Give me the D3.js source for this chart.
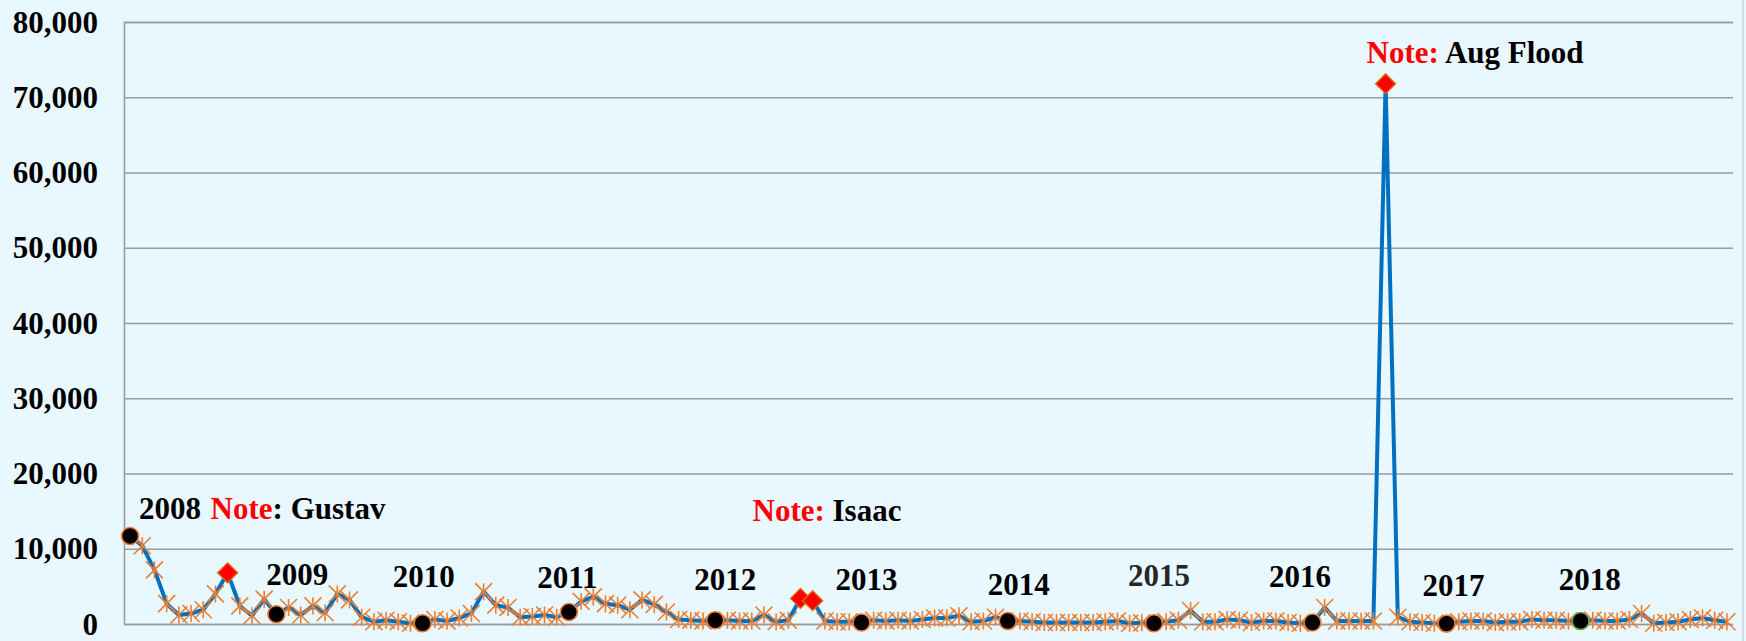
<!DOCTYPE html>
<html><head><meta charset="utf-8">
<script src="https://cdn.jsdelivr.net/npm/d3@7"></script>
<style>
html,body{margin:0;padding:0;background:#E9F7FE;}
svg{display:block;}
</style></head><body>
<svg id="chart" width="1746" height="641"></svg>
<script>
// ---- data ----
const values = [
  11700,10400,7200,2700,1200,1400,1900,4000,6800,2400,1100,3300,
  1300,2200,1200,2400,1500,4000,3200,900,300,500,300,100,
  100,600,400,800,1400,4300,2500,2200,900,1000,1200,900,
  1600,3000,3600,2700,2500,1900,3200,2600,1600,600,500,400,
  500,500,400,400,1200,300,500,3400,3100,400,300,300,
  200,500,400,500,400,600,800,800,1100,300,400,900,
  400,400,300,200,200,200,200,200,300,400,100,150,
  100,300,500,1800,300,300,600,500,200,400,400,200,
  100,200,2200,400,400,400,400,71800,900,300,200,100,
  50,300,400,400,200,300,300,600,500,500,400,400,
  500,400,400,600,1400,100,200,300,600,800,500,300
];
const yearLabels = ['2008','2009','2010','2011','2012','2013','2014','2015','2016','2017','2018'];
const yearIndex  = [0,12,24,36,48,60,72,84,97,108,119];
const noteIndex  = [8,55,56,103];
const noteAnchor = [8,55,103];
const noteLead   = ['Note','Note:','Note:'];
const noteBody   = [': Gustav',' Isaac',' Aug Flood'];
const yTicks     = [0,10000,20000,30000,40000,50000,60000,70000,80000];

// ---- layout ----
const W = 1746, H = 641;
const plot = {left:124, right:1733, top:22, bottom:624};
const FONT = "'Liberation Serif','Times New Roman',serif";
const svg = d3.select('#chart');
svg.append('rect').attr('width',W).attr('height',H).attr('fill','#E9F7FE');
svg.append('line').attr('x1',1743).attr('x2',1743).attr('y1',0).attr('y2',H)
   .attr('stroke','#c4c9cc').attr('stroke-width',1.2);

const x = d3.scaleBand().domain(d3.range(values.length)).range([plot.left, plot.right]).paddingInner(0).paddingOuter(0);
const cx = i => x(i) + x.bandwidth()/2;
const y = d3.scaleLinear().domain([0,80000]).range([plot.bottom, plot.top]);

// y axis with gridlines
const yAxis = d3.axisLeft(y).tickValues(yTicks).tickFormat(d3.format(','))
  .tickSize(-(plot.right-plot.left)).tickPadding(26);
const gy = svg.append('g').attr('transform',`translate(${plot.left},0)`).call(yAxis);
gy.select('.domain').attr('stroke','#9a9a9a').attr('stroke-width',1.6);
gy.selectAll('.tick line').attr('stroke','#9a9a9a').attr('stroke-width',1.6);
gy.selectAll('.tick text').attr('font-family',FONT).attr('font-weight','bold')
  .attr('font-size',31).attr('fill','#000').attr('dy','0.33em');

// line
svg.append('path').datum(values)
  .attr('fill','none').attr('stroke','#0070C0').attr('stroke-width',4)
  .attr('stroke-linejoin','round')
  .attr('d', d3.line().x((d,i)=>cx(i)).y(d=>y(d)));

// star markers
const plain = values.map((v,i)=>i).filter(i=>!yearIndex.includes(i) && !noteIndex.includes(i));
const s = 8.5;
svg.append('g').selectAll('path').data(plain).join('path')
  .attr('transform', i=>`translate(${cx(i)},${y(values[i])})`)
  .attr('d', `M${-s},${-s}L${s},${s}M${-s},${s}L${s},${-s}M0,${-s}L0,${s}`)
  .attr('stroke','#ED7D31').attr('stroke-width',1.6).attr('fill','none');

// diamonds
svg.append('g').selectAll('path').data(noteIndex).join('path')
  .attr('transform', i=>`translate(${cx(i)},${y(values[i])})`)
  .attr('d','M0,-10L10,0L0,10L-10,0Z')
  .attr('fill','#FF0000').attr('stroke','#E46C0A').attr('stroke-width',1.3);

// year circles
svg.append('g').selectAll('circle').data(yearIndex).join('circle')
  .attr('cx', i=>cx(i)).attr('cy', i=>y(values[i])).attr('r',8.5)
  .attr('fill','#000')
  .attr('stroke', (i,k)=> k===yearIndex.length-1 ? '#70AD47' : '#ED7D31')
  .attr('stroke-width',1.6);

// year labels (offsets from their anchor point)
const yearOffset = [[40,-17],[21,-29],[1,-36.5],[-1.5,-24.3],[10,-30.2],[5,-32.5],[11,-26],[5,-37.2],[-12.5,-35.8],[7,-27.6],[9,-31]];
svg.append('g').selectAll('text').data(yearIndex).join('text')
  .attr('x',(i,k)=>cx(i)+yearOffset[k][0])
  .attr('y',(i,k)=>y(values[i])+yearOffset[k][1])
  .attr('text-anchor','middle')
  .attr('font-family',FONT).attr('font-weight','bold').attr('font-size',31)
  .attr('fill',(i,k)=> yearLabels[k]==='2015' ? '#262626' : '#000')
  .text((i,k)=>yearLabels[k]);

// notes (offsets from anchor point)
const noteOffset = [[-17,-54],[-48,-77],[-19,-20.5]];
const nt = svg.append('g').selectAll('text').data(noteAnchor).join('text')
  .attr('x',(i,k)=>cx(i)+noteOffset[k][0])
  .attr('y',(i,k)=>y(values[i])+noteOffset[k][1])
  .attr('font-family',FONT).attr('font-weight','bold').attr('font-size',31);
nt.append('tspan').attr('fill','#FF0000').text((i,k)=>noteLead[k]);
nt.append('tspan').attr('fill','#000').attr('xml:space','preserve').style('white-space','pre').text((i,k)=>noteBody[k]);
</script>
</body></html>
